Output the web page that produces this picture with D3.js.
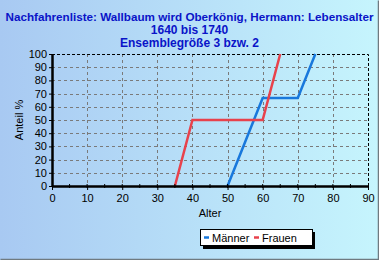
<!DOCTYPE html>
<html>
<head>
<meta charset="utf-8">
<script src="https://cdn.jsdelivr.net/npm/d3@7"></script>
<style>
  html, body { margin: 0; padding: 0; }
  svg { display: block; font-family: Arial, "Liberation Sans", sans-serif; }
</style>
</head>
<body>
<svg id="chart" width="379" height="260"></svg>
<script>
// data
const titleLines = [
  'Nachfahrenliste: Wallbaum wird Oberkönig, Hermann: Lebensalter',
  '1640 bis 1740',
  'Ensemblegröße 3 bzw. 2'
];
const seriesNames = ['Männer', 'Frauen'];
const maennerAge = [50, 55, 60, 65, 70, 75];
const maennerPct = [0, 33.3, 66.7, 66.7, 66.7, 100];
const frauenAge = [35, 40, 45, 50, 55, 60, 65];
const frauenPct = [0, 50, 50, 50, 50, 50, 100];
const xTicks = d3.range(0, 91, 10);
const yTicks = d3.range(0, 101, 10);

const W = 379, H = 260;
const margin = { left: 52, right: 11, top: 54, bottom: 74 };

const svg = d3.select('#chart');

// background gradient
const defs = svg.append('defs');
const grad = defs.append('linearGradient')
  .attr('id', 'bg')
  .attr('x1', '0%').attr('y1', '0%')
  .attr('x2', '100%').attr('y2', '0%');
grad.append('stop').attr('offset', '0%').attr('stop-color', '#a8c9f2');
grad.append('stop').attr('offset', '100%').attr('stop-color', '#c6f5fd');

svg.append('rect')
  .attr('width', W).attr('height', H)
  .attr('fill', 'url(#bg)');
// frame (darker bottom / right)
svg.append('path')
  .attr('d', `M0.5,${H - 0.5}H${W - 0.5}V0.5`)
  .attr('fill', 'none')
  .attr('stroke', '#6f7a80')
  .attr('stroke-width', 1.5);

// title
svg.append('g')
  .selectAll('text')
  .data(titleLines)
  .join('text')
  .attr('x', W / 2)
  .attr('y', (d, i) => 21 + i * 13)
  .attr('text-anchor', 'middle')
  .attr('font-size', (d, i) => i === 0 ? 11.5 : 12)
  .attr('font-weight', 'bold')
  .attr('fill', '#0a14c8')
  .attr('textLength', (d, i) => i === 0 ? 368 : null)
  .attr('lengthAdjust', 'spacingAndGlyphs')
  .text(d => d);

const x = d3.scaleLinear().domain([0, 90]).range([margin.left, W - margin.right]);
const y = d3.scaleLinear().domain([0, 100]).range([H - margin.bottom, margin.top]);

// grid
const grid = svg.append('g')
  .attr('stroke', '#7a7a7a')
  .attr('stroke-dasharray', '3,3')
  .attr('stroke-width', 1);
grid.selectAll('.gx')
  .data(xTicks.slice(1, -1))
  .join('line')
  .attr('x1', d => Math.round(x(d)) + 0.5).attr('x2', d => Math.round(x(d)) + 0.5)
  .attr('y1', y(100)).attr('y2', y(0));
grid.selectAll('.gy')
  .data(yTicks.slice(1, -1))
  .join('line')
  .attr('x1', x(0)).attr('x2', x(90))
  .attr('y1', d => Math.round(y(d)) + 0.5).attr('y2', d => Math.round(y(d)) + 0.5);

// top and right border, dashed black
svg.append('path')
  .attr('d', `M${x(0)},${Math.round(y(100)) + 0.5}H${Math.round(x(90)) + 0.5}V${y(0)}`)
  .attr('fill', 'none')
  .attr('stroke', '#000')
  .attr('stroke-dasharray', '3,2')
  .attr('stroke-width', 1);

// lines
const line = d3.line().x(d => x(d[0])).y(d => y(d[1]));
const series = [
  { name: seriesNames[0], color: '#1878dc', pts: d3.zip(maennerAge, maennerPct) },
  { name: seriesNames[1], color: '#e8424c', pts: d3.zip(frauenAge, frauenPct) }
];
svg.append('g')
  .selectAll('path')
  .data(series)
  .join('path')
  .attr('d', d => line(d.pts))
  .attr('fill', 'none')
  .attr('stroke', d => d.color)
  .attr('stroke-width', 2.5)
  .attr('stroke-linejoin', 'miter');

// axes
const xAxis = svg.append('g')
  .attr('transform', `translate(0,${y(0)})`)
  .call(d3.axisBottom(x).tickValues(xTicks).tickSize(4).tickSizeOuter(0).tickPadding(4));
xAxis.select('.domain').attr('stroke-width', 2.5);
xAxis.selectAll('text').attr('font-size', 11).attr('font-family', 'Arial, "Liberation Sans", sans-serif');
xAxis.append('g')
  .selectAll('line')
  .data(d3.range(5, 90, 5))
  .join('line')
  .attr('x1', d => x(d)).attr('x2', d => x(d))
  .attr('y1', -2).attr('y2', 2)
  .attr('stroke', '#000');

const yAxis = svg.append('g')
  .attr('transform', `translate(${x(0)},0)`)
  .call(d3.axisLeft(y).tickValues(yTicks).tickSize(3).tickSizeOuter(0).tickPadding(2));
yAxis.select('.domain').attr('stroke-width', 2.5);
yAxis.selectAll('text').attr('font-size', 11).attr('font-family', 'Arial, "Liberation Sans", sans-serif');

// axis titles
svg.append('text')
  .attr('x', x(45)).attr('y', 217)
  .attr('text-anchor', 'middle')
  .attr('font-size', 11)
  .text('Alter');
svg.append('text')
  .attr('transform', `translate(23,${y(50)}) rotate(-90)`)
  .attr('text-anchor', 'middle')
  .attr('font-size', 11)
  .text('Anteil %');

// legend
const lg = svg.append('g').attr('transform', 'translate(200,229)');
lg.append('rect').attr('x', 3).attr('y', 3).attr('width', 112).attr('height', 17).attr('fill', '#000');
lg.append('rect').attr('x', 0.5).attr('y', 0.5).attr('width', 112).attr('height', 16)
  .attr('fill', '#fff').attr('stroke', '#000');
const item = lg.selectAll('.item')
  .data(series)
  .join('g')
  .attr('transform', (d, i) => `translate(${4 + i * 50},0)`);
item.append('line')
  .attr('x1', 0).attr('x2', 5).attr('y1', 8.5).attr('y2', 8.5)
  .attr('stroke', d => d.color).attr('stroke-width', 2.5);
item.append('text')
  .attr('x', 8).attr('y', 12.5)
  .attr('font-size', 11)
  .text(d => d.name);
</script>
</body>
</html>
